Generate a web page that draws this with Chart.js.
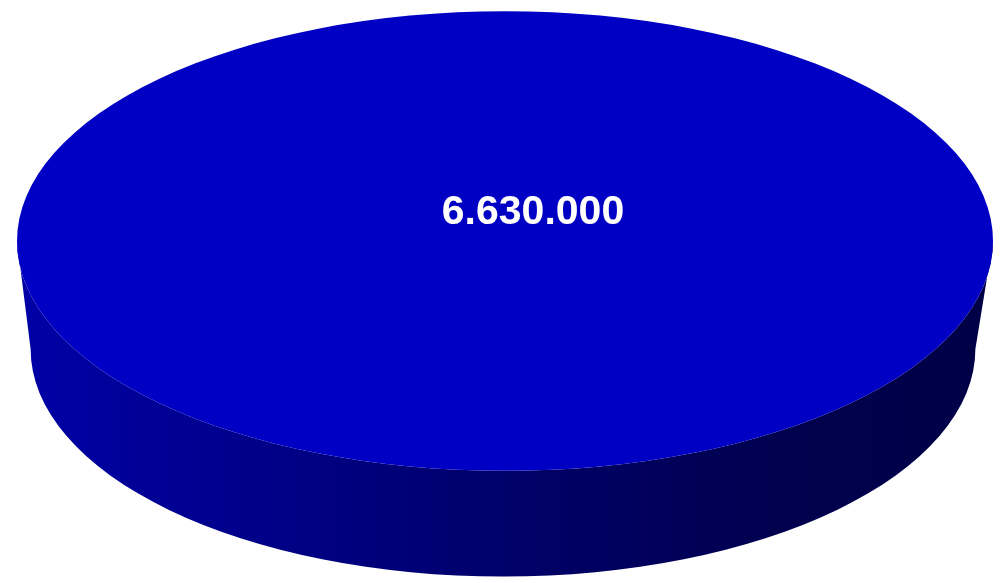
<!DOCTYPE html>
<html>
<head>
<meta charset="utf-8">
<script src="https://cdn.jsdelivr.net/npm/chart.js@4.4.0/dist/chart.umd.min.js"></script>
<style>
  html, body { margin: 0; padding: 0; background: #fff; }
  #wrap { width: 1000px; height: 583px; position: relative; }
</style>
</head>
<body>
<div id="wrap"><canvas id="grafico"></canvas></div>
<script>
// dados
var categorias = ["Total"];
var valores = [6630000];
var cores = ["#0000c4"];

// formata 6630000 -> 6.630.000
function formatar(n) {
  return String(n).replace(/\B(?=(\d{3})+(?!\d))/g, ".");
}

var achatamento = 0.471;   // ry / rx da face de cima
var profundidade = 108;    // altura da lateral

var pizza3d = {
  id: "pizza3d",
  beforeDatasetsDraw: function(chart) {
    var arco = chart.getDatasetMeta(0).data[0];
    if (!arco) return;
    var ctx = chart.ctx;
    var cx = arco.x, cy = arco.y, r = arco.outerRadius;
    var ry = r * achatamento;

    // lateral (cilindro), um pouco mais estreita embaixo
    var rBase = r * 0.968;
    var grad = ctx.createLinearGradient(cx - r, 0, cx + r, 0);
    grad.addColorStop(0, "#0000a6");
    grad.addColorStop(0.19, "#000090");
    grad.addColorStop(0.5, "#00006a");
    grad.addColorStop(0.79, "#00004e");
    grad.addColorStop(1, "#000046");
    ctx.save();
    ctx.beginPath();
    ctx.ellipse(cx, cy, r, ry, 0, 0, Math.PI, false);
    ctx.ellipse(cx - 2, cy + profundidade, rBase, ry * 0.99, 0, Math.PI, 0, true);
    ctx.closePath();
    ctx.fillStyle = grad;
    ctx.fill();
    ctx.restore();

    // achata a face de cima
    ctx.save();
    ctx.translate(cx, cy);
    ctx.scale(1, achatamento);
    ctx.translate(-cx, -cy);
  },
  afterDatasetsDraw: function(chart) {
    var ctx = chart.ctx;
    ctx.restore();
    var arco = chart.getDatasetMeta(0).data[0];
    if (!arco) return;
    ctx.save();
    ctx.fillStyle = "#ffffff";
    ctx.font = "bold 41px 'Liberation Sans', Arial, sans-serif";
    ctx.textAlign = "center";
    ctx.textBaseline = "middle";
    ctx.fillText(formatar(chart.data.datasets[0].data[0]), arco.x + 28, arco.y - 28);
    ctx.restore();
  }
};

new Chart(document.getElementById("grafico"), {
  type: "pie",
  data: {
    labels: categorias,
    datasets: [{
      data: valores,
      backgroundColor: cores,
      borderWidth: 0,
      radius: 488,
      clip: false
    }]
  },
  options: {
    responsive: true,
    maintainAspectRatio: false,
    animation: false,
    events: [],
    layout: { padding: { left: 10, right: 0, top: 0, bottom: 101 } },
    plugins: {
      legend: { display: false },
      tooltip: { enabled: false }
    }
  },
  plugins: [pizza3d]
});
</script>
</body>
</html>
